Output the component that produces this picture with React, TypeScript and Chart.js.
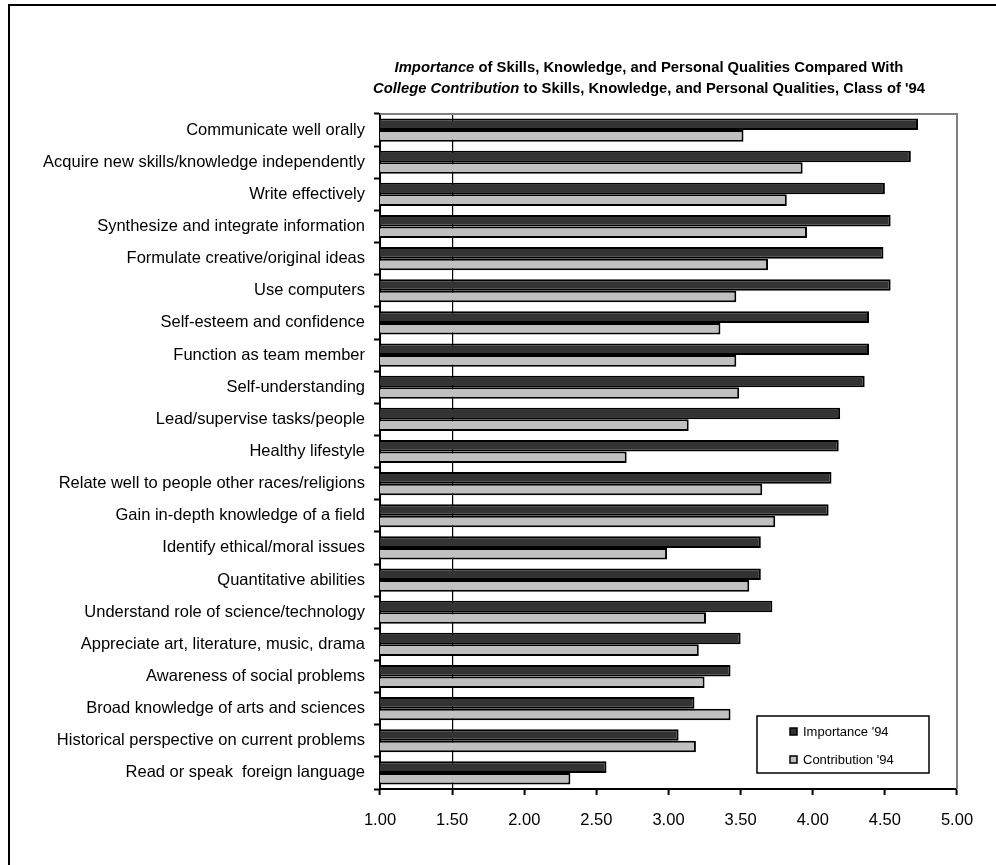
import React, { useEffect, useRef } from "react";
import { Chart, registerables } from "chart.js";

Chart.register(...registerables);

const categories = [
  "Communicate well orally",
  "Acquire new skills/knowledge independently",
  "Write effectively",
  "Synthesize and integrate information",
  "Formulate creative/original ideas",
  "Use computers",
  "Self-esteem and confidence",
  "Function as team member",
  "Self-understanding",
  "Lead/supervise tasks/people",
  "Healthy lifestyle",
  "Relate well to people other races/religions",
  "Gain in-depth knowledge of a field",
  "Identify ethical/moral issues",
  "Quantitative abilities",
  "Understand role of science/technology",
  "Appreciate art, literature, music, drama",
  "Awareness of social problems",
  "Broad knowledge of arts and sciences",
  "Historical perspective on current problems",
  "Read or speak  foreign language",
];

const importance94 = [
  4.73, 4.68, 4.5, 4.54, 4.49, 4.54, 4.39, 4.39, 4.36, 4.19, 4.18, 4.13, 4.11,
  3.64, 3.64, 3.72, 3.5, 3.43, 3.18, 3.07, 2.57,
];

const contribution94 = [
  3.52, 3.93, 3.82, 3.96, 3.69, 3.47, 3.36, 3.47, 3.49, 3.14, 2.71, 3.65, 3.74,
  2.99, 3.56, 3.26, 3.21, 3.25, 3.43, 3.19, 2.32,
];

const seriesLabels = ["Importance '94", "Contribution '94"];
const xTickValues = [1.0, 1.5, 2.0, 2.5, 3.0, 3.5, 4.0, 4.5, 5.0];

const titleLine1: [string, boolean][] = [
  ["Importance", true],
  [" of Skills, Knowledge, and Personal Qualities Compared With", false],
];
const titleLine2: [string, boolean][] = [
  ["College Contribution", true],
  [" to Skills, Knowledge, and Personal Qualities, Class of '94", false],
];

const FONT = '"Liberation Sans", Arial, Helvetica, sans-serif';
const DARK = "#333333";
const LIGHT = "#c0c0c0";

export default function App() {
  const ref = useRef<HTMLCanvasElement | null>(null);

  useEffect(() => {
    document.body.style.margin = "0";
    const canvas = ref.current;
    if (!canvas) return;

    const decorPlugin = {
      id: "decor",
      beforeDraw(chart: any) {
        const ctx = chart.ctx;
        ctx.save();
        ctx.fillStyle = "#ffffff";
        ctx.fillRect(0, 0, chart.width, chart.height);
        ctx.strokeStyle = "#000000";
        ctx.lineWidth = 2;
        ctx.strokeRect(9, 5, chart.width + 20, chart.height + 20);
        ctx.restore();
      },
      afterDraw(chart: any) {
        const ctx = chart.ctx;
        const a = chart.chartArea;
        ctx.save();
        // gray top and right plot border
        ctx.strokeStyle = "#808080";
        ctx.lineWidth = 2;
        ctx.beginPath();
        ctx.moveTo(a.left, a.top);
        ctx.lineTo(a.right, a.top);
        ctx.lineTo(a.right, a.bottom);
        ctx.stroke();

        // title
        const lines = [titleLine1, titleLine2];
        const ys = [68, 89];
        const cx = 649;
        ctx.textBaseline = "middle";
        ctx.fillStyle = "#000000";
        lines.forEach((parts, i) => {
          let total = 0;
          parts.forEach(([t, it]) => {
            ctx.font = `${it ? "italic " : ""}bold 14.8px ${FONT}`;
            total += ctx.measureText(t).width;
          });
          let x = cx - total / 2;
          parts.forEach(([t, it]) => {
            ctx.font = `${it ? "italic " : ""}bold 14.8px ${FONT}`;
            ctx.textAlign = "left";
            ctx.fillText(t, x, ys[i]);
            x += ctx.measureText(t).width;
          });
        });

        // legend
        const lx = 757, ly = 716, lw = 172, lh = 57;
        ctx.fillStyle = "#ffffff";
        ctx.fillRect(lx, ly, lw, lh);
        ctx.strokeStyle = "#000000";
        ctx.lineWidth = 1.5;
        ctx.strokeRect(lx, ly, lw, lh);
        const itemYs = [731.5, 759.5];
        chart.data.datasets.forEach((ds: any, i: number) => {
          const y = itemYs[i];
          ctx.fillStyle = ds.backgroundColor;
          ctx.fillRect(790, y - 3.5, 7, 7);
          ctx.strokeStyle = "#000000";
          ctx.lineWidth = 1.5;
          ctx.strokeRect(790, y - 3.5, 7, 7);
          ctx.fillStyle = "#000000";
          ctx.font = `13px ${FONT}`;
          ctx.textAlign = "left";
          ctx.textBaseline = "middle";
          ctx.fillText(ds.label, 803, y + 0.5);
        });
        ctx.restore();
      },
    };

    const chart = new Chart(canvas, {
      type: "bar",
      data: {
        labels: categories,
        datasets: [
          {
            label: seriesLabels[0],
            data: importance94,
            backgroundColor: DARK,
            borderColor: "#000000",
            borderWidth: 2,
            borderSkipped: false,
            barPercentage: 1,
            categoryPercentage: 0.72,
          },
          {
            label: seriesLabels[1],
            data: contribution94,
            backgroundColor: LIGHT,
            borderColor: "#000000",
            borderWidth: 2,
            borderSkipped: false,
            barPercentage: 1,
            categoryPercentage: 0.72,
          },
        ],
      },
      options: {
        indexAxis: "y",
        animation: false,
        responsive: true,
        maintainAspectRatio: false,
        layout: { padding: { left: 0, right: 39, top: 114, bottom: 0 } },
        plugins: {
          legend: { display: false },
          title: { display: false },
          tooltip: { enabled: false },
        },
        scales: {
          x: {
            type: "linear",
            min: 1,
            max: 5,
            afterBuildTicks: (scale: any) => {
              scale.ticks = xTickValues.map((v) => ({ value: v }));
            },
            afterFit: (scale: any) => {
              scale.height = 76;
            },
            ticks: {
              color: "#000000",
              font: { family: FONT, size: 16.5 },
              padding: 16,
              maxRotation: 0,
              autoSkip: false,
              callback: (v: any) => Number(v).toFixed(2),
            },
            grid: {
              drawOnChartArea: true,
              color: (c: any) =>
                c.tick && Math.abs(c.tick.value - 1.5) < 1e-6 ? "#000000" : "rgba(0,0,0,0)",
              lineWidth: 1.2,
              drawTicks: true,
              tickLength: 6,
              tickColor: "#000000",
              tickWidth: 2,
            },
            border: { display: true, color: "#000000", width: 2 },
          },
          y: {
            type: "category",
            afterFit: (scale: any) => {
              scale.width = 380;
            },
            ticks: {
              color: "#000000",
              font: { family: FONT, size: 16.5 },
              padding: 9,
              autoSkip: false,
            },
            grid: {
              offset: true,
              drawOnChartArea: false,
              drawTicks: true,
              tickLength: 6,
              tickColor: "#000000",
              tickWidth: 2,
            },
            border: { display: true, color: "#000000", width: 2 },
          },
        },
      },
      plugins: [decorPlugin],
    } as any);

    return () => chart.destroy();
  }, []);

  return (
    <div style={{ width: 996, height: 865, position: "relative" }}>
      <canvas ref={ref} />
    </div>
  );
}
